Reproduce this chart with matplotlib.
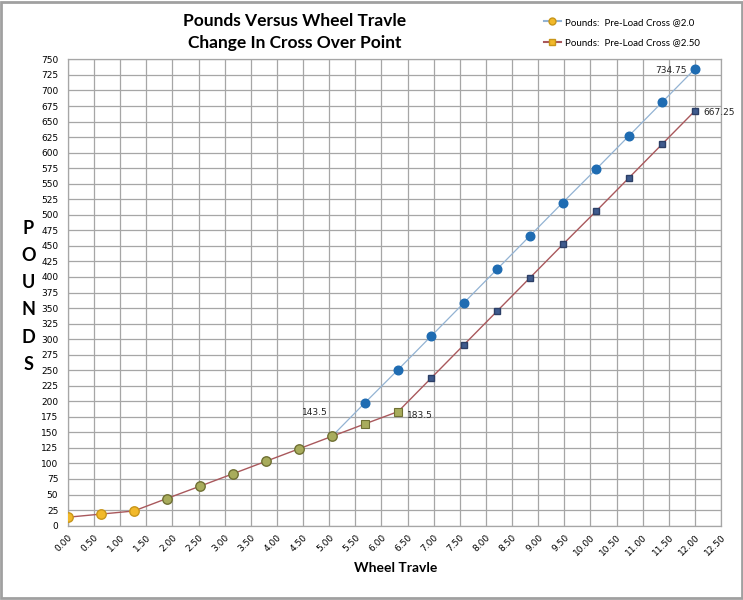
import matplotlib
matplotlib.use("Agg")
import matplotlib.pyplot as plt
from matplotlib.lines import Line2D
from matplotlib.patches import Rectangle

# ---- data ----
wheel_travel = [0.00, 0.63, 1.26, 1.89, 2.53, 3.16, 3.79, 4.42, 5.05, 5.68,
                6.32, 6.95, 7.58, 8.21, 8.84, 9.47, 10.11, 10.74, 11.37, 12.00]
pounds_cross_20 = [13.5, 18.5, 23.5, 43.5, 63.5, 83.5, 103.5, 123.5, 143.5, 197.25,
                   251.0, 304.75, 358.5, 412.25, 466.0, 519.75, 573.5, 627.25, 681.0, 734.75]
pounds_cross_25 = [13.5, 18.5, 23.5, 43.5, 63.5, 83.5, 103.5, 123.5, 143.5, 163.5,
                   183.5, 237.25, 291.0, 344.75, 398.5, 452.25, 506.0, 559.75, 613.5, 667.25]
series_names = ["Pounds:  Pre-Load Cross @2.0", "Pounds:  Pre-Load Cross @2.50"]
x_ticks = [i * 0.5 for i in range(26)]
y_ticks = [i * 25 for i in range(31)]
title_text = "Pounds Versus Wheel Travle\nChange In Cross Over Point"
x_label = "Wheel Travle"
y_label = "POUNDS"
annotations = [(5.05, 143.5, "143.5"), (6.32, 183.5, "183.5"),
               (12.00, 734.75, "734.75"), (12.00, 667.25, "667.25")]

# ---- styling ----
line1_color = "#93B3D3"
line2_color = "#A9585C"
gold_fc, gold_ec = "#F2B92A", "#C8961A"
olive_fc, olive_ec = "#A8AC5C", "#6F7033"
blue_c = "#1F6CB2"
navy_fc, navy_ec = "#3F5B8E", "#2C3F66"
grid_c = "#A6A6A6"

fig = plt.figure(figsize=(7.43, 6.0), dpi=100)
fig.patch.set_facecolor("white")
fig.patches.append(Rectangle((0.002, 0.003), 0.996, 0.994, transform=fig.transFigure,
                             fill=False, edgecolor="#A0A0A0", linewidth=2))

ax = fig.add_axes([0.0915, 0.124, 0.879, 0.777])
ax.set_xlim(0, 12.5)
ax.set_ylim(0, 750)
ax.set_xticks(x_ticks)
ax.set_yticks(y_ticks)
ax.set_xticklabels([f"{v:.2f}" for v in x_ticks], rotation=45, ha="right",
                   rotation_mode="anchor", fontsize=6.5, family="DejaVu Sans")
ax.set_yticklabels([str(v) for v in y_ticks], fontsize=6.5, family="DejaVu Sans")
ax.tick_params(axis="y", length=0, pad=7)
ax.tick_params(axis="x", length=0, pad=5)
ax.grid(True, color=grid_c, linewidth=0.9)
ax.set_axisbelow(True)
for s in ax.spines.values():
    s.set_color(grid_c)
    s.set_linewidth(0.9)

# lines
ax.plot(wheel_travel[8:], pounds_cross_20[8:], color=line1_color, linewidth=0.9, zorder=2)
ax.plot(wheel_travel, pounds_cross_25, color=line2_color, linewidth=1.0, zorder=3)

# markers
ax.plot(wheel_travel[9:], pounds_cross_20[9:], linestyle="none", marker="o",
        markersize=6.2, markerfacecolor=blue_c, markeredgecolor=blue_c, zorder=4)
ax.plot(wheel_travel[11:], pounds_cross_25[11:], linestyle="none", marker="s",
        markersize=5, markerfacecolor=navy_fc, markeredgecolor=navy_ec, zorder=4)
ax.plot(wheel_travel[:3], pounds_cross_25[:3], linestyle="none", marker="o",
        markersize=6.8, markerfacecolor=gold_fc, markeredgecolor=gold_ec, markeredgewidth=1, zorder=5)
ax.plot(wheel_travel[3:9], pounds_cross_25[3:9], linestyle="none", marker="o",
        markersize=6.8, markerfacecolor=olive_fc, markeredgecolor=olive_ec, markeredgewidth=1, zorder=5)
ax.plot(wheel_travel[9:11], pounds_cross_25[9:11], linestyle="none", marker="s",
        markersize=5.2, markerfacecolor=olive_fc, markeredgecolor=olive_ec, markeredgewidth=0.8, zorder=5)

# annotations
offsets = [(-3, 17, "right"), (6, -3, "left"), (-6, -1, "right"), (6, -1, "left")]
for (x, y, t), (dx, dy, ha) in zip(annotations, offsets):
    ax.annotate(t, (x, y), xytext=(dx, dy), textcoords="offset points",
                ha=ha, va="center", fontsize=6.5, family="DejaVu Sans", color="#222222")

# title
fig.text(0.397, 0.947, title_text, ha="center", va="center", fontsize=12.5,
         fontweight="bold", family="Lato", linespacing=1.45)

# x label
fig.text(0.532, 0.053, x_label, ha="center", va="center", fontsize=10,
         fontweight="bold", family="Lato")

# y label stacked letters
for i, ch in enumerate(y_label):
    fig.text(0.038, 1 - (228 + i * 27.3) / 600, ch, ha="center", va="center",
             fontsize=13, fontweight="bold", family="Lato")

# legend
handles = [
    Line2D([], [], color=line1_color, marker="o", markersize=5,
           markerfacecolor=gold_fc, markeredgecolor=gold_ec),
    Line2D([], [], color=line2_color, marker="s", markersize=5,
           markerfacecolor=gold_fc, markeredgecolor=gold_ec),
]
fig.legend(handles, series_names, loc="upper left", bbox_to_anchor=(0.72, 0.985),
           frameon=False, prop={"family": "Lato", "size": 7}, handlelength=1.8,
           handletextpad=0.4, labelspacing=1.15)

fig.savefig("out.png", dpi=100)
